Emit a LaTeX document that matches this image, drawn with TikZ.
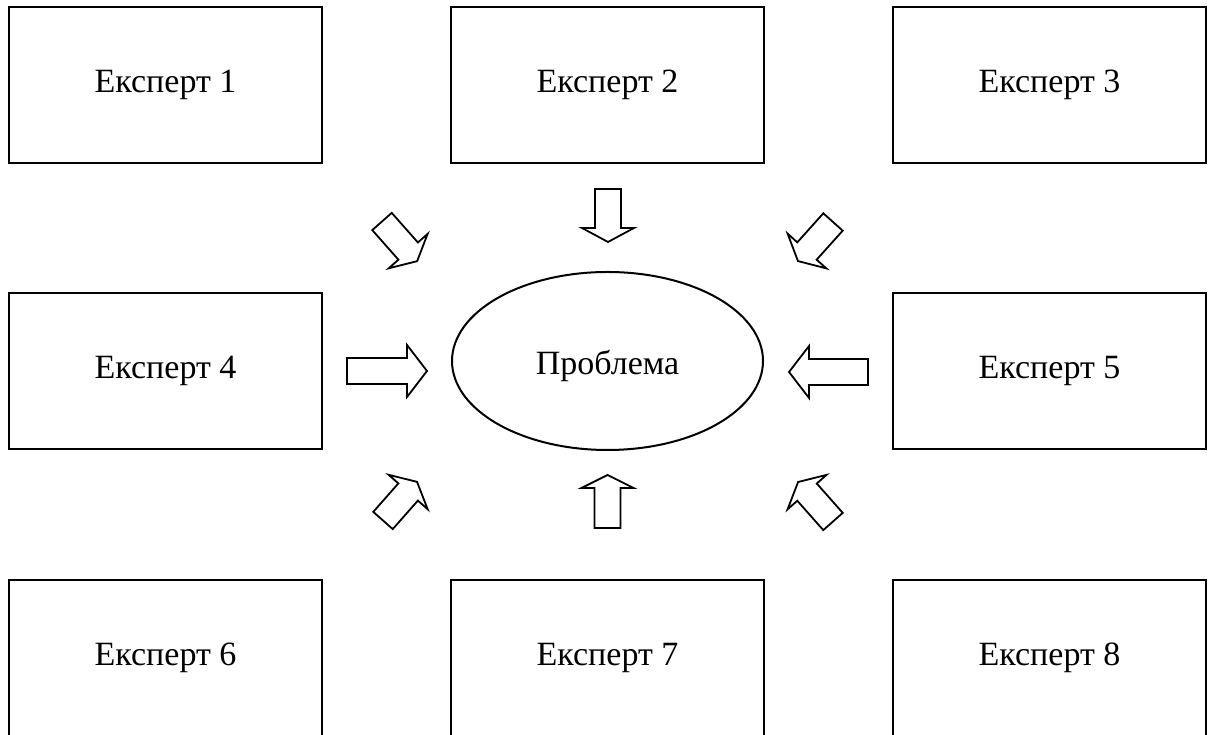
\documentclass[tikz,border=0pt]{standalone}
\usepackage{fontspec}
\setmainfont{Liberation Serif}
\usetikzlibrary{shapes.geometric}
\tikzset{
  expbox/.style={draw=black, line width=2pt, rectangle, minimum width=313pt, minimum height=156pt, inner sep=0pt, font=\fontsize{34}{40}\selectfont},
  probell/.style={draw=black, line width=2pt, ellipse, minimum width=311pt, minimum height=178pt, inner sep=0pt, text height=28pt, text depth=0pt, font=\fontsize{34}{40}\selectfont},
  arrowline/.style={draw=black, line width=1.8pt, line join=miter, fill=white}
}
\newcommand{\blockarr}[5]{%
  \draw[arrowline,shift={(#1,#2)},rotate=#3] (0,-13) -- ({#4-#5},-13) -- ({#4-#5},-26) -- (#4,0) -- ({#4-#5},26) -- ({#4-#5},13) -- (0,13) -- cycle;}
\begin{document}
\begin{tikzpicture}[x=1pt,y=1pt]
\useasboundingbox (0,0) rectangle (1209,735);
\node[expbox] (e1) at (165.5,650) {Експерт 1};
\node[expbox] (e2) at (607.5,650) {Експерт 2};
\node[expbox] (e3) at (1049.5,650) {Експерт 3};
\node[expbox] (e4) at (165.5,364) {Експерт 4};
\node[expbox] (e5) at (1049.5,364) {Експерт 5};
\node[expbox] (e6) at (165.5,77) {Експерт 6};
\node[expbox] (e7) at (607.5,77) {Експерт 7};
\node[expbox] (e8) at (1049.5,77) {Експерт 8};
\node[probell] (p) at (607.5,374) {Проблема};
\blockarr{382}{513.5}{-48.5}{53}{13.5}
\blockarr{608}{546}{-90}{53}{14}
\blockarr{833}{513}{-131.9}{52.5}{13.5}
\blockarr{347}{364}{0}{80}{20}
\blockarr{868}{363}{180}{79}{20}
\blockarr{383}{214.5}{48.6}{51.5}{13.5}
\blockarr{607.5}{207}{90}{53}{13}
\blockarr{833}{213.5}{131.5}{52.7}{13.5}
\end{tikzpicture}
\end{document}
